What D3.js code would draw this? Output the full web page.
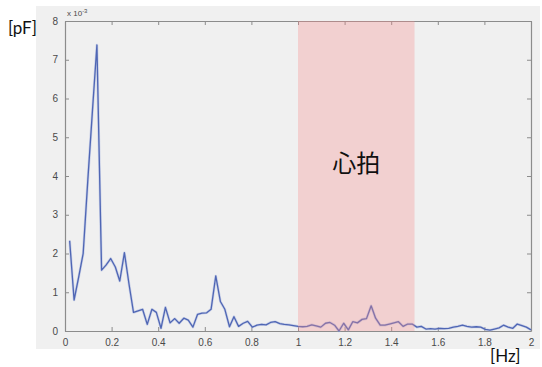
<!DOCTYPE html>
<html>
<head>
<meta charset="utf-8">
<script src="https://cdn.jsdelivr.net/npm/d3@7"></script>
<style>
  html, body { margin: 0; padding: 0; background: #ffffff; }
  svg { display: block; }
</style>
</head>
<body>
<svg id="chart" width="542" height="367"></svg>
<script>
// Spectrum bins (Hz)
const freqs = [
  0.020, 0.039, 0.059, 0.078, 0.098, 0.118, 0.137, 0.157, 0.176, 0.196,
  0.216, 0.235, 0.255, 0.275, 0.294, 0.314, 0.333, 0.353, 0.373, 0.392,
  0.412, 0.431, 0.451, 0.471, 0.490, 0.510, 0.529, 0.549, 0.569, 0.588,
  0.608, 0.627, 0.647, 0.667, 0.686, 0.706, 0.725, 0.745, 0.765, 0.784,
  0.804, 0.824, 0.843, 0.863, 0.882, 0.902, 0.922, 0.941, 0.961, 0.980,
  1.000, 1.020, 1.039, 1.059, 1.078, 1.098, 1.118, 1.137, 1.157, 1.176,
  1.196, 1.216, 1.235, 1.255, 1.275, 1.294, 1.314, 1.333, 1.353, 1.373,
  1.392, 1.412, 1.431, 1.451, 1.471, 1.490, 1.510, 1.529, 1.549, 1.569,
  1.588, 1.608, 1.627, 1.647, 1.667, 1.686, 1.706, 1.725, 1.745, 1.765,
  1.784, 1.804, 1.824, 1.843, 1.863, 1.882, 1.902, 1.922, 1.941, 1.961,
  1.980, 2.000
];
// Amplitude, in units of 1e-3 pF
const amplitude = [
  2.33, 0.80, 1.40, 2.00, 3.90, 5.70, 7.38, 1.57, 1.70, 1.87,
  1.65, 1.29, 2.02, 1.20, 0.48, 0.52, 0.56, 0.17, 0.56, 0.48,
  0.07, 0.61, 0.21, 0.32, 0.20, 0.33, 0.28, 0.10, 0.43, 0.46,
  0.47, 0.56, 1.42, 0.76, 0.56, 0.11, 0.37, 0.12, 0.20, 0.25,
  0.10, 0.15, 0.17, 0.16, 0.22, 0.24, 0.19, 0.17, 0.16, 0.14,
  0.12, 0.11, 0.12, 0.16, 0.13, 0.10, 0.20, 0.22, 0.15, 0.00,
  0.20, 0.03, 0.24, 0.21, 0.30, 0.32, 0.65, 0.33, 0.15, 0.15,
  0.18, 0.21, 0.24, 0.12, 0.18, 0.18, 0.10, 0.12, 0.05, 0.06,
  0.05, 0.07, 0.06, 0.07, 0.10, 0.12, 0.15, 0.12, 0.10, 0.11,
  0.10, 0.04, 0.02, 0.05, 0.08, 0.15, 0.10, 0.07, 0.18, 0.14,
  0.10, 0.03
];
const xTicks = [0, 0.2, 0.4, 0.6, 0.8, 1, 1.2, 1.4, 1.6, 1.8, 2];
const yTicks = [0, 1, 2, 3, 4, 5, 6, 7, 8];
const heartBand = [1.0, 1.5];
const bandLabel = "心拍";
const yUnit = "[pF]";
const xUnit = "[Hz]";

const svg = d3.select("#chart");
const plot = { left: 65, right: 531, top: 21, bottom: 331 };

const x = d3.scaleLinear().domain([0, 2]).range([plot.left, plot.right]);
const y = d3.scaleLinear().domain([0, 8]).range([plot.bottom, plot.top]);

// figure panel
svg.append("rect")
  .attr("x", 36).attr("y", 6).attr("width", 504).attr("height", 343)
  .attr("fill", "#f0f0f0");

const tickFont = "Liberation Sans, Arial, sans-serif";
const axisColor = "#8c8c8c";

// axes box with inward ticks
const bottomAxis = d3.axisBottom(x).tickValues(xTicks).tickSizeInner(-4).tickSizeOuter(0)
  .tickFormat(d3.format("~g")).tickPadding(8);
const topAxis = d3.axisTop(x).tickValues(xTicks).tickSizeInner(-4).tickSizeOuter(0).tickFormat("");
const leftAxis = d3.axisLeft(y).tickValues(yTicks).tickSizeInner(-4).tickSizeOuter(0)
  .tickFormat(d3.format("~g")).tickPadding(7);
const rightAxis = d3.axisRight(y).tickValues(yTicks).tickSizeInner(-4).tickSizeOuter(0).tickFormat("");

function styleAxis(g) {
  g.select(".domain").attr("stroke", axisColor).attr("stroke-width", 1.2);
  g.selectAll(".tick line").attr("stroke", axisColor);
  g.selectAll(".tick text").attr("fill", "#4a4a4a")
    .style("font-family", tickFont).style("font-size", "10px");
}

svg.append("g").attr("transform", `translate(0,${plot.bottom})`).call(bottomAxis).call(styleAxis);
svg.append("g").attr("transform", `translate(0,${plot.top})`).call(topAxis).call(styleAxis);
svg.append("g").attr("transform", `translate(${plot.left},0)`).call(leftAxis).call(styleAxis);
svg.append("g").attr("transform", `translate(${plot.right},0)`).call(rightAxis).call(styleAxis);

// exponent marker
const expo = svg.append("text")
  .attr("x", plot.left + 2).attr("y", 16)
  .attr("fill", "#4a4a4a")
  .style("font-family", tickFont).style("font-size", "8px");
expo.append("tspan").text("x 10");
expo.append("tspan").attr("dy", -3).style("font-size", "6px").text("-3");

// spectrum line
const points = freqs.map((f, i) => [f, amplitude[i]]);
const line = d3.line().x(d => x(d[0])).y(d => y(d[1]));

svg.append("path").datum(points)
  .attr("fill", "none").attr("stroke", "#a9b6e0").attr("stroke-width", 2.6)
  .attr("stroke-opacity", 0.55).attr("stroke-linejoin", "round")
  .attr("d", line);
svg.append("path").datum(points)
  .attr("fill", "none").attr("stroke", "#4f66b4").attr("stroke-width", 1.3)
  .attr("stroke-linejoin", "round")
  .attr("d", line);

// heartbeat band
svg.append("rect")
  .attr("x", x(heartBand[0])).attr("y", y(8))
  .attr("width", x(heartBand[1]) - x(heartBand[0]))
  .attr("height", y(0) - y(8))
  .attr("fill", "rgb(247,140,140)").attr("fill-opacity", 0.32);

svg.append("text")
  .attr("x", x((heartBand[0] + heartBand[1]) / 2)).attr("y", 172)
  .attr("text-anchor", "middle")
  .attr("fill", "#111")
  .style("font-family", "Noto Sans CJK JP, sans-serif").style("font-size", "24px")
  .text(bandLabel);

// unit labels
svg.append("text")
  .attr("x", 8).attr("y", 34)
  .attr("fill", "#111")
  .style("font-family", "Lato, Open Sans, sans-serif").style("font-size", "17px")
  .text(yUnit);
svg.append("text")
  .attr("x", 490).attr("y", 362)
  .attr("fill", "#111")
  .style("font-family", "Lato, Open Sans, sans-serif").style("font-size", "17px")
  .text(xUnit);
</script>
</body>
</html>
